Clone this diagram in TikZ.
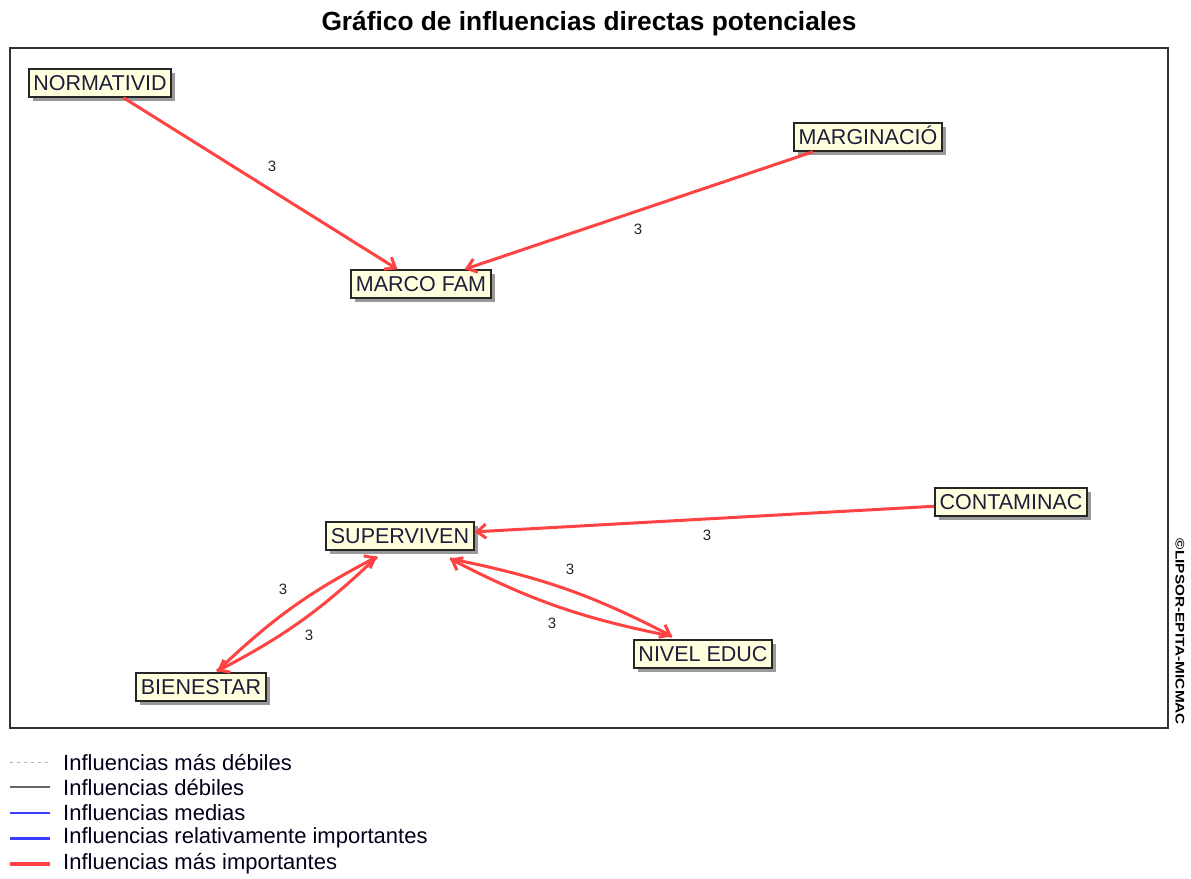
\documentclass[tikz,border=0pt]{standalone}
\usepackage{fontspec}
\setmainfont{Liberation Sans}
\usetikzlibrary{arrows.meta,shadows}
\definecolor{edgered}{RGB}{255,66,66}
\definecolor{nodefill}{RGB}{255,255,222}
\definecolor{nodetext}{RGB}{30,30,60}
\definecolor{legblue}{RGB}{60,60,255}
\tikzset{
  var/.style={draw=black!85, line width=2pt, fill=nodefill,
    font=\fontsize{21.5}{21.5}\selectfont, text=nodetext,
    inner xsep=4.5pt, inner ysep=6pt, text height=15.5pt, text depth=0pt,
    drop shadow={shadow xshift=4pt, shadow yshift=-4pt, fill=black, opacity=0.4}},
  infl/.style={draw=edgered, line width=3pt, -{Straight Barb[length=9pt,width=14pt]}},
  lab/.style={font=\fontsize{15}{15}\selectfont, text=black!85},
  legtext/.style={anchor=west, font=\fontsize{22}{22}\selectfont, text=black!90!blue, inner sep=0pt}
}
\begin{document}
\begin{tikzpicture}[x=1pt,y=-1pt]
\useasboundingbox (0,0) rectangle (1191,878);
\fill[white] (0,0) rectangle (1191,878);
% title
\node[font=\bfseries\fontsize{26.3}{26.3}\selectfont] (title) at (589,24) {Gráfico de influencias directas potenciales};
% frame
\draw[line width=2pt, draw=black!80] (10,48) rectangle (1168,728);
% copyright
\node[rotate=-90, font=\bfseries\fontsize{12.5}{12.5}\selectfont] (copy) at (1180,632) {\scalebox{1.23}[1]{©LIPSOR-EPITA-MICMAC}};
% nodes
\node[var] (norm) at (100,83) {NORMATIVID};
\node[var] (marco) at (421,284) {MARCO FAM};
\node[var] (marg) at (868,137) {MARGINACIÓ};
\node[var] (cont) at (1011,502) {CONTAMINAC};
\node[var] (sup) at (400,536) {SUPERVIVEN};
\node[var] (bien) at (201,687) {BIENESTAR};
\node[var] (niv) at (703,654) {NIVEL EDUC};
% end points of the paired connectors
\coordinate (supR) at ([xshift=50pt,yshift=-8pt]sup.south);
\coordinate (supL) at ([xshift=-23pt,yshift=-6pt]sup.south);
\coordinate (nivT) at ([xshift=-31pt,yshift=3pt]niv.north);
\coordinate (bienT) at ([xshift=16pt,yshift=1pt]bien.north);
% edges
\draw[infl] (norm) -- (marco);
\draw[infl] ([xshift=-55pt]marg.south) -- (marco);
\draw[infl] (cont) -- (sup);
\draw[infl] (supR) to[bend left=8] (nivT);
\draw[infl] (nivT) to[bend left=8] (supR);
\draw[infl] (supL) to[bend left=8] (bienT);
\draw[infl] (bienT) to[bend left=8] (supL);
% labels
\node[lab] (l1) at (272,166) {3};
\node[lab] (l2) at (638,229) {3};
\node[lab] (l3) at (707,535) {3};
\node[lab] (l4) at (570,569) {3};
\node[lab] (l5) at (552,623) {3};
\node[lab] (l6) at (283,589) {3};
\node[lab] (l7) at (309,635) {3};
% legend
\draw[draw=black!30, line width=1pt, dash pattern=on 3pt off 4pt] (10,762) -- (50,762);
\draw[draw=black!60, line width=1.5pt] (10,787) -- (50,787);
\draw[draw=legblue, line width=1.5pt] (10,813) -- (50,813);
\draw[draw=legblue, line width=3pt] (10,838) -- (50,838);
\draw[draw=edgered, line width=4pt] (10,864) -- (50,864);
\node[legtext] (t1) at (63,762) {Influencias más débiles};
\node[legtext] (t2) at (63,787) {Influencias débiles};
\node[legtext] (t3) at (63,813) {Influencias medias};
\node[legtext] (t4) at (63,838) {Influencias relativamente importantes};
\node[legtext] (t5) at (63,864) {Influencias más importantes};
\end{tikzpicture}
\end{document}
